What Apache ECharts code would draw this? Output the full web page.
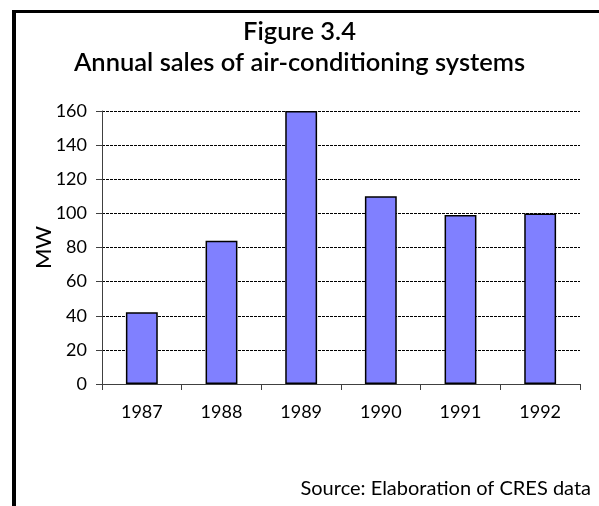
<!DOCTYPE html>
<html><head><meta charset="utf-8">
<script src="https://cdn.jsdelivr.net/npm/echarts@6/dist/echarts.min.js"></script>
<style>html,body{margin:0;padding:0;background:#fff}#c{width:599px;height:506px}</style>
</head><body><div id="c"></div>
<script>
const categories = ['1987','1988','1989','1990','1991','1992'];
const salesMW = [42, 84, 160, 110, 99, 100];
const yTicks = {min: 0, max: 160, interval: 20};
const titleLines = ['Figure 3.4', 'Annual sales of air-conditioning systems'];
const yAxisName = 'MW';
const sourceText = 'Source: Elaboration of CRES data';

const FONT = 'Lato, sans-serif';
const chart = echarts.init(document.getElementById('c'), null, {renderer: 'canvas'});
chart.setOption({
  animation: false,
  backgroundColor: '#fff',
  title: [
    {text: titleLines[0], left: 'center', top: 14, textStyle: {fontFamily: FONT, fontSize: 25.5, fontWeight: 600, color: '#000'}},
    {text: titleLines[1], left: 'center', top: 45, textStyle: {fontFamily: FONT, fontSize: 25.5, fontWeight: 600, color: '#000'}},
    {text: sourceText, right: 3, top: 474, textStyle: {fontFamily: FONT, fontSize: 20, fontWeight: 'normal', color: '#000'}}
  ],
  grid: {left: 102, right: 19, top: 111, bottom: 122},
  xAxis: {
    type: 'category', data: categories,
    axisLine: {show: true, lineStyle: {color: '#404040', width: 1}},
    axisTick: {show: true, alignWithLabel: false, length: 6, lineStyle: {color: '#404040'}},
    axisLabel: {fontFamily: FONT, fontSize: 18, color: '#000', margin: 19}
  },
  yAxis: {
    type: 'value', min: yTicks.min, max: yTicks.max, interval: yTicks.interval,
    name: yAxisName, nameLocation: 'middle', nameGap: 47, nameRotate: 90, nameMoveOverlap: false,
    nameTextStyle: {fontFamily: FONT, fontSize: 22, color: '#000'},
    axisLine: {show: true, lineStyle: {color: '#404040', width: 1}},
    axisTick: {show: true, length: 6, lineStyle: {color: '#404040'}},
    axisLabel: {fontFamily: FONT, fontSize: 18, color: '#000', margin: 15},
    splitLine: {show: true, lineStyle: {color: '#000', type: [3, 1], width: 1}}
  },
  series: [{
    type: 'bar', data: salesMW, barWidth: '40%',
    itemStyle: {color: '#8080FF', borderColor: '#000', borderWidth: 1.5}
  }],
  graphic: [
    {type: 'rect', shape: {x: 12, y: 10, width: 4, height: 500}, style: {fill: '#000'}, silent: true},
    {type: 'rect', shape: {x: 12, y: 10, width: 600, height: 3}, style: {fill: '#000'}, silent: true}
  ]
});
</script></body></html>
